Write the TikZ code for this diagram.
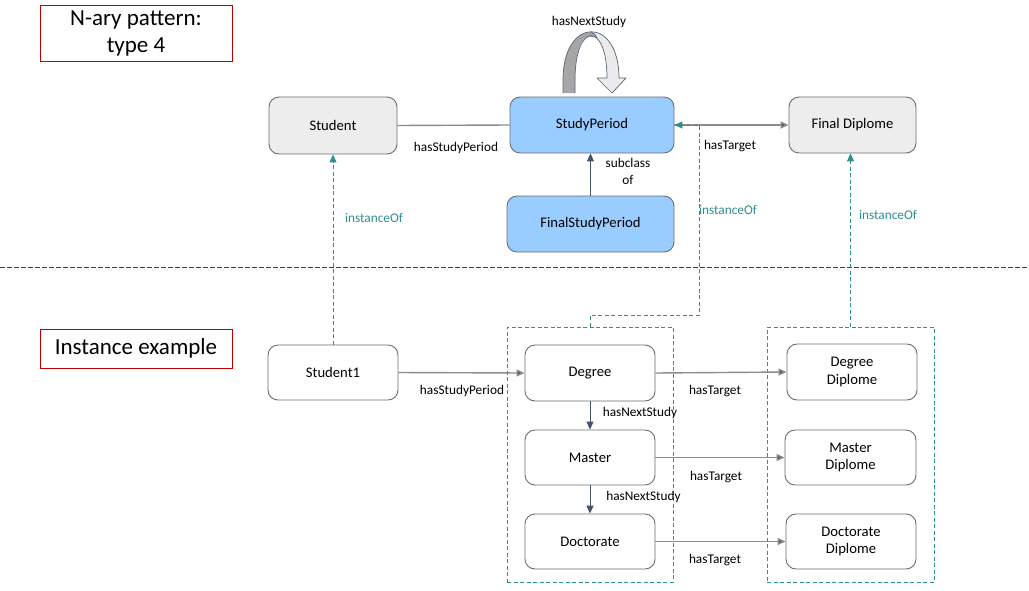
\documentclass[tikz,border=0pt]{standalone}
\usepackage{fontspec}
\setmainfont{Carlito}
\usetikzlibrary{arrows.meta}
\definecolor{bord}{HTML}{6E6E6E}
\definecolor{grayfill}{HTML}{EDEDED}
\definecolor{bluefill}{HTML}{99CCFF}
\definecolor{teal2}{HTML}{2F8F8A}
\definecolor{slate}{HTML}{44546A}
\definecolor{linegray}{HTML}{8C8C8C}
\definecolor{sepred}{HTML}{A01010}
\definecolor{titlered}{HTML}{C00000}
\tikzset{
  box/.style={draw=bord, line width=0.9pt, rounded corners=10pt, inner sep=2pt,
    font=\fontsize{14.67}{17.5}\selectfont, align=center},
  titlebox/.style={draw=titlered, line width=0.9pt, inner sep=0pt, align=center,
    font=\fontsize{23}{27}\selectfont},
  group/.style={draw=teal2, line width=1pt, dash pattern=on 4pt off 2.5pt},
  lbl/.style={font=\fontsize{13.3}{17}\selectfont, inner sep=0pt, align=center},
  tlbl/.style={lbl, text=teal2},
  rel/.style={draw=linegray, line width=1.4pt, -{Triangle[length=8pt,width=7pt,fill=black!65]}},
  plainrel/.style={draw=linegray, line width=1.4pt},
  nextrel/.style={draw=slate, line width=1pt, -{Triangle[length=8pt,width=7pt]}},
  inst/.style={draw=teal2, line width=1pt, dash pattern=on 4pt off 2.5pt,
    -{Triangle[length=8pt,width=7pt,fill=teal2]}},
}
\begin{document}
\begin{tikzpicture}[x=1pt,y=-1pt]
\useasboundingbox[fill=white] (0,0) rectangle (1029,590);

% titles
\node[titlebox, minimum width=192pt, minimum height=56pt] (t1) at (136,33) {N-ary pattern:\\type 4};
\node[titlebox, minimum width=192pt, minimum height=39pt] (t2) at (136,348.5) {Instance example};

% separator
\coordinate (sepL) at (0,267);
\coordinate (sepR) at (1029,267);
\draw[sepred, line width=0.9pt, dash pattern=on 4.5pt off 2.5pt] (sepL) -- (sepR);

% groups
\node[group, minimum width=166pt, minimum height=255pt] (g1) at (590,454.5) {};
\node[group, minimum width=167pt, minimum height=255pt] (g2) at (850.5,454.5) {};

% pattern nodes
\node[box, fill=grayfill, minimum width=128pt, minimum height=57pt] (student) at (333,125.5) {Student};
\node[box, fill=bluefill, minimum width=164pt, minimum height=56pt] (sp) at (592,125) {StudyPeriod};
\node[box, fill=grayfill, minimum width=127pt, minimum height=56pt] (fd) at (852.5,125) {Final Diplome};
\node[box, fill=bluefill, minimum width=167pt, minimum height=56pt] (fsp) at (590.5,224) {FinalStudyPeriod};

% instance nodes
\node[box, fill=white, minimum width=130pt, minimum height=55pt] (s1) at (333,372.5) {Student1};
\node[box, fill=white, minimum width=130pt, minimum height=56pt] (deg) at (590,373) {Degree};
\node[box, fill=white, minimum width=130pt, minimum height=55pt] (mas) at (590,457.5) {Master};
\node[box, fill=white, minimum width=130pt, minimum height=55pt] (doc) at (590,541.5) {Doctorate};
\node[box, fill=white, minimum width=130pt, minimum height=56pt] (degd) at (852,372) {Degree\\Diplome};
\node[box, fill=white, minimum width=131pt, minimum height=55pt] (masd) at (850.5,457.5) {Master\\Diplome};
\node[box, fill=white, minimum width=130pt, minimum height=55pt] (docd) at (851,541.5) {Doctorate\\Diplome};

% curved self arrow above StudyPeriod
\fill[black!8] (563,93) -- (563,80) .. controls (563,16) and (619,16) .. (619,78)
  -- (626,78) -- (612,93) -- (597,78) -- (607,78)
  .. controls (607,21.3) and (575,21.3) .. (575,80) -- (575,93) -- cycle;
\fill[black!35] (563,93) -- (563,80) .. controls (563,48) and (577,32) .. (591,32)
  .. controls (594,33) and (596,35) .. (597,38)
  .. controls (593,36) and (586,36) .. (583,40)
  .. controls (578,47) and (575,60) .. (575,80) -- (575,93) -- cycle;
\draw[slate!90, line width=0.7pt, line join=round] (563,93) -- (563,80) .. controls (563,16) and (619,16) .. (619,78)
  -- (626,78) -- (612,93) -- (597,78) -- (607,78)
  .. controls (607,21.3) and (575,21.3) .. (575,80) -- (575,93);
\draw[slate!90, line width=0.7pt] (591,32) .. controls (594,33) and (596,35) .. (597,38);
\node[lbl] (lnext0) at (589,22) {hasNextStudy};

% pattern connectors
\draw[plainrel] (student.east) -- (sp.west);
\node[lbl] (lsp0) at (456,148) {hasStudyPeriod};
\draw[rel] (sp.east) -- (fd.west);
\node[lbl] (lt0) at (730,146) {hasTarget};
\draw[nextrel] (fsp.north) -- (fsp.north |- sp.south);
\node[lbl] (lsub) at (628,171) {subclass\\of};

% instance connectors
\draw[rel] (s1.east) -- (deg.west);
\node[lbl] (lsp1) at (462,391) {hasStudyPeriod};
\draw[rel] (deg.east) -- (degd.west);
\node[lbl] (lt1) at (715,391) {hasTarget};
\draw[rel] (mas.east) -- (masd.west);
\node[lbl] (lt2) at (716,477) {hasTarget};
\draw[rel] (doc.east) -- (docd.west);
\node[lbl] (lt3) at (715,560) {hasTarget};
\draw[nextrel] (deg.south) -- (mas.north);
\node[lbl] (ln1) at (640,413) {hasNextStudy};
\draw[nextrel] (mas.south) -- (doc.north);
\node[lbl] (ln2) at (643.5,497) {hasNextStudy};

% instanceOf connectors
\draw[inst] (s1.north) -- (student.south);
\node[tlbl] (li1) at (374,218) {instanceOf};
\coordinate (k1) at (699,315);
\draw[inst] (g1.north) -- (g1.north |- k1) -- (k1) -- (k1 |- sp.east) -- (sp.east);
\node[tlbl] (li2) at (728,210) {instanceOf};
\draw[inst] (g2.north) -- (g2.north |- fd.south);
\node[tlbl] (li3) at (888,215) {instanceOf};
\end{tikzpicture}
\end{document}
